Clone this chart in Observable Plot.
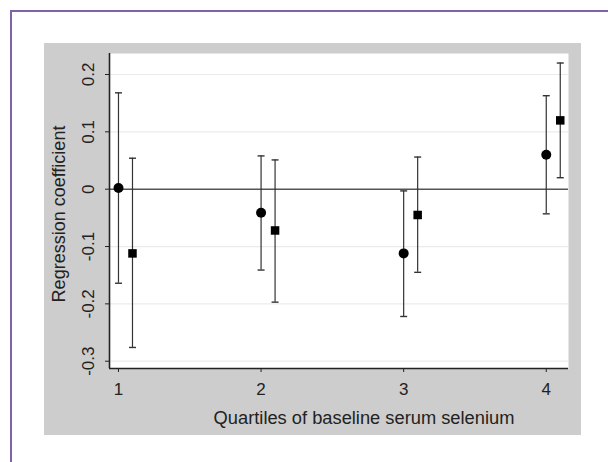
<!DOCTYPE html>
<html>
<head>
<meta charset="utf-8">
<script src="https://cdn.jsdelivr.net/npm/d3@7"></script>
<script src="https://cdn.jsdelivr.net/npm/@observablehq/plot@0.6"></script>
<style>
  html, body { margin: 0; padding: 0; width: 608px; height: 462px; overflow: hidden; background: #fff; }
  #frame { position: absolute; left: 10px; top: 10px; width: 640px; height: 500px; border: 2px solid #7f62a9; box-sizing: border-box; }
  #panel { position: absolute; left: 44px; top: 43px; width: 537px; height: 392px; background: #cdcdcd; }
  #panel svg { display: block; }
</style>
</head>
<body>
<div id="frame"></div>
<div id="panel"></div>
<script>
// Data
const quartiles = [1, 2, 3, 4];
const circleCoef = [0.002, -0.041, -0.112, 0.060];
const circleLo   = [-0.164, -0.141, -0.222, -0.043];
const circleHi   = [0.168, 0.058, -0.003, 0.163];
const squareCoef = [-0.112, -0.072, -0.045, 0.120];
const squareLo   = [-0.276, -0.197, -0.145, 0.020];
const squareHi   = [0.054, 0.051, 0.056, 0.220];
const yTicks = [-0.3, -0.2, -0.1, 0, 0.1, 0.2];
const gridTicks = [-0.3, -0.2, -0.1, 0.1, 0.2];
const xDomain = [0.937, 4.156];
const yDomain = [-0.3127, 0.2366];
const xTitle = "Quartiles of baseline serum selenium";
const yTitle = "Regression coefficient";

const circles = quartiles.map((q, i) => ({q, coef: circleCoef[i], lo: circleLo[i], hi: circleHi[i]}));
const squares = quartiles.map((q, i) => ({q, coef: squareCoef[i], lo: squareLo[i], hi: squareHi[i]}));

const cap = { draw(context) { context.moveTo(-3.5, 0); context.lineTo(3.5, 0); } };
const offset = 14;
const ink = "#222";
const barInk = "#333";

const chart = Plot.plot({
  width: 537,
  height: 392,
  marginLeft: 65,
  marginRight: 13,
  marginTop: 10,
  marginBottom: 67,
  style: { background: "transparent", fontFamily: "'Liberation Sans', Arial, sans-serif", color: ink },
  x: { domain: xDomain, axis: null },
  y: { domain: yDomain, axis: null },
  marks: [
    Plot.frame({ fill: "white", stroke: null }),
    Plot.ruleY(gridTicks, { stroke: "#ebebeb", strokeWidth: 1.2 }),
    Plot.ruleY([0], { stroke: "#555", strokeWidth: 1.4 }),
    // axes
    Plot.ruleX([xDomain[0]], { stroke: ink, strokeWidth: 1.6 }),
    Plot.ruleY([yDomain[0]], { stroke: ink, strokeWidth: 1.6 }),
    Plot.axisY({ ticks: yTicks, tickSize: 4, tickFormat: () => "", label: null, stroke: ink }),
    Plot.text(yTicks, { y: d => d, text: d => String(d), frameAnchor: "left", dx: -21, rotate: -90, textAnchor: "middle", lineAnchor: "middle", fontSize: 17, fill: ink }),
    Plot.axisX({ ticks: quartiles, tickSize: 4, tickPadding: 10, fontSize: 17, label: null, tickFormat: d => String(d), stroke: ink, fill: ink }),
    Plot.text([yTitle], { frameAnchor: "left", dx: -50, dy: 3, rotate: -90, textAnchor: "middle", lineAnchor: "middle", fontSize: 18, fill: ink }),
    Plot.text([xTitle], { frameAnchor: "bottom", dx: 25, dy: 50, textAnchor: "middle", lineAnchor: "middle", fontSize: 18.3, fill: ink }),
    // circle series
    Plot.ruleX(circles, { x: "q", y1: "lo", y2: "hi", stroke: barInk, strokeWidth: 1.2 }),
    Plot.dot(circles, { x: "q", y: "lo", symbol: cap, stroke: barInk, fill: "none", strokeWidth: 1.4 }),
    Plot.dot(circles, { x: "q", y: "hi", symbol: cap, stroke: barInk, fill: "none", strokeWidth: 1.4 }),
    Plot.dot(circles, { x: "q", y: "coef", symbol: "circle", r: 5, fill: "black", stroke: null }),
    // square series
    Plot.ruleX(squares, { x: "q", y1: "lo", y2: "hi", dx: offset, stroke: barInk, strokeWidth: 1.2 }),
    Plot.dot(squares, { x: "q", y: "lo", dx: offset, symbol: cap, stroke: barInk, fill: "none", strokeWidth: 1.4 }),
    Plot.dot(squares, { x: "q", y: "hi", dx: offset, symbol: cap, stroke: barInk, fill: "none", strokeWidth: 1.4 }),
    Plot.dot(squares, { x: "q", y: "coef", dx: offset, symbol: "square", r: 4.8, fill: "black", stroke: null })
  ]
});
document.getElementById("panel").appendChild(chart);
</script>
</body>
</html>
